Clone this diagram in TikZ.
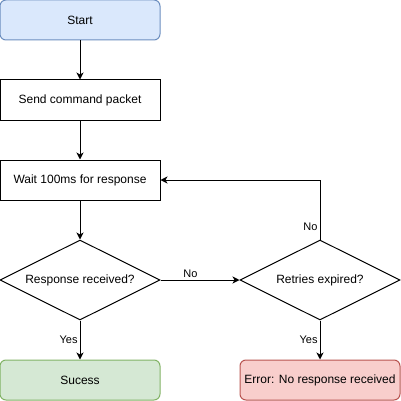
\documentclass[tikz,border=0pt]{standalone}
\usepackage{fontspec}
\setmainfont{Liberation Sans}
\usepackage{tikz}
\usetikzlibrary{arrows,arrows.meta,shapes,positioning}
\definecolor{startfill}{HTML}{DAE8FC}
\definecolor{startline}{HTML}{6C8EBF}
\definecolor{okfill}{HTML}{D5E8D4}
\definecolor{okline}{HTML}{82B366}
\definecolor{errfill}{HTML}{F8CECC}
\definecolor{errline}{HTML}{B85450}
\tikzset{
  stepbox/.style = {rectangle, draw, line width = 1pt, minimum width = 160pt,
    minimum height = 40pt, inner sep = 0pt, align = center},
  endbox/.style = {stepbox, rounded corners = 6pt},
  decision/.style = {diamond, draw, line width = 1pt, minimum width = 160pt,
    minimum height = 80pt, inner sep = 0pt, aspect = 2},
  flow/.style = {line width = 1pt, -{Stealth[length = 7pt, width = 7pt, inset = 2pt]}},
  edgelabel/.style = {font = \fontsize{11}{13}\selectfont, inner sep = 2pt}
}

\begin{document}
\begin{tikzpicture}[x = 1pt, y = -1pt, font = \fontsize{12}{14}\selectfont]
  \useasboundingbox (0,0) rectangle (401,401);
  \node[endbox, fill = startfill, draw = startline] (start) at (80,20) {Start};
  \node[stepbox] (send) at (80,100) {Send command packet};
  \node[stepbox] (wait) at (80,180) {Wait 100ms for response};
  \node[decision] (received) at (80,280) {Response received?};
  \node[decision] (retries) at (320,280) {Retries expired?};
  \node[endbox, fill = okfill, draw = okline] (success) at (80,380) {Sucess};
  \node[endbox, fill = errfill, draw = errline] (error) at (320,380)
    {Error: No response received};

  \draw[flow] (start) -- (send);
  \draw[flow] (send) -- (wait);
  \draw[flow] (wait) -- (received);
  \draw[flow] (received) -- node[edgelabel, above, pos = 0.38] {No} (retries);
  \draw[flow] (received) -- node[edgelabel, left, pos = 0.5] {Yes} (success);
  \draw[flow] (retries) -- node[edgelabel, left, pos = 0.5] {Yes} (error);
  \draw[flow] (retries.north) |- node[edgelabel, left, pos = 0.11] {No} (wait.east);
\end{tikzpicture}
\end{document}
